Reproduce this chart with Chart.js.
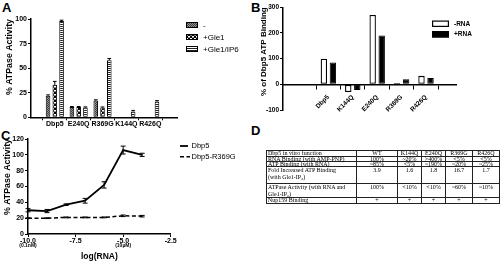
<!DOCTYPE html>
<html><head><meta charset="utf-8">
<script src="https://cdn.jsdelivr.net/npm/chart.js@4.4.0/dist/chart.umd.min.js"></script>
<style>
html,body{margin:0;padding:0;background:#fff;width:504px;height:263px;overflow:hidden;font-family:"Liberation Sans",Arial,sans-serif;}
#page{position:absolute;left:0;top:0;width:504px;height:263px;}
.pane{position:absolute;}
.lbl{position:absolute;font:bold 13px "Liberation Sans",Arial,sans-serif;line-height:13px;}
#tbl{position:absolute;left:266px;top:150px;width:233px;table-layout:fixed;border-collapse:collapse;font:6px "Liberation Serif","DejaVu Serif",serif;color:#000;will-change:transform;}
#tbl td{border:1px solid #222;padding:0 1px;vertical-align:top;white-space:pre-line;overflow:visible;}
#tbl td div{overflow:visible;}
#tbl td.c{text-align:center;}
</style></head><body>
<div id="page">
<div class="lbl" style="left:2px;top:1px">A</div>
<div class="lbl" style="left:251px;top:1px">B</div>
<div class="lbl" style="left:1px;top:129px">C</div>
<div class="lbl" style="left:251px;top:124px">D</div>
<canvas id="ca" class="pane" width="250" height="131" style="left:0;top:0"></canvas>
<canvas id="cb" class="pane" width="254" height="125" style="left:250px;top:0"></canvas>
<canvas id="cc" class="pane" width="250" height="138" style="left:0;top:125px"></canvas>
<table id="tbl"><colgroup><col style="width:90px"><col style="width:41px"><col style="width:24px"><col style="width:24px"><col style="width:27px"><col style="width:27px"></colgroup><tbody></tbody></table>
</div>
<script>
// ---------- DATA ----------
// Panel A
const categoriesA = ['Dbp5', 'E240Q', 'R369G', 'K144Q', 'R426Q'];
const labelsA = ['-', '+Gle1', '+Gle1/IP6'];
const seriesA_none = [22, 10.5, 17, 0, 0];
const seriesA_gle1 = [33, 10.5, 10, 0, 0];
const seriesA_ip6 = [98, 10, 58, 6, 16];
const errA_none = [0.8, 0.5, 0.8, 0, 0];
const errA_gle1 = [3.5, 0.5, 0.5, 0, 0];
const errA_ip6 = [0.8, 0.6, 1.8, 1, 1];
const ticksAy = [0, 25, 50, 75, 100];
// Panel B
const categoriesB = ['Dbp5', 'K144Q', 'E240Q', 'R369G', 'R426Q'];
const labelsB = ['-RNA', '+RNA'];
const seriesB_minus = [100, -30, 270, 5, 33];
const seriesB_plus = [85, -22, 190, 20, 25];
const ticksBy = [-100, 0, 100, 200, 300];
// Panel C
const logRNA = [-10, -9, -8, -7, -6, -5, -4];
const labelsC = ['Dbp5', 'Dbp5-R369G'];
const seriesC_wt = [30, 29, 37, 42, 62, 106, 100];
const errC_wt = [2, 2, 1, 3, 4, 5, 2];
const seriesC_r369g = [20, 20, 21, 21, 21, 23, 22.5];
const errC_r369g = [0.5, 0.5, 0.5, 0.5, 0.5, 1, 1];
const ticksCx = [-10, -7.5, -5, -2.5];
const subTicksCx = [[-10, '(0.1nM)'], [-5, '(10µM)']];
const ticksCy = [0, 20, 40, 60, 80, 100, 120];
// Panel D
const tableHeader = ['Dbp5 in vitro function', 'WT', 'K144Q', 'E240Q', 'R369G', 'R426Q'];
const tableRows = [
  ['RNA Binding (with AMP-PNP)', '100%', '~20%', '>400%', '<5%', '<5%'],
  ['ATP Binding (with RNA)', '~85%', '<5%', '~190%', '~20%', '~25%'],
  ['Fold Increased ATP Binding\n(with Gle1-IP₆)', '3.9', '1.6', '1.8', '16.7', '1.7'],
  ['ATPase Activity (with RNA and\nGle1-IP₆)', '100%', '<10%', '<10%', '~60%', '~10%'],
  ['Nup159 Binding', '+', '+', '+', '+', '+']
];

// ---------- STYLE ----------
const FONT = '"Liberation Sans", Arial, sans-serif';
Chart.defaults.font.family = FONT;
Chart.defaults.color = '#000';
Chart.defaults.animation = false;

function makePattern(w, h, draw) {
  const c = document.createElement('canvas'); c.width = w; c.height = h;
  const g = c.getContext('2d'); draw(g); return g.createPattern(c, 'repeat');
}
const patNone = makePattern(2, 2, g => { g.fillStyle = '#949494'; g.fillRect(0,0,2,2); g.fillStyle = '#3c3c3c'; g.fillRect(0,0,1,1); g.fillRect(1,1,1,1); });
const patGle1 = makePattern(4, 4, g => { g.fillStyle = '#000'; g.fillRect(0,0,4,4); g.fillStyle = '#fff'; g.fillRect(0,0,2,1); g.fillRect(2,2,2,1); g.fillStyle = '#888'; g.fillRect(0,1,2,1); g.fillRect(2,3,2,1); });
const patIp6 = makePattern(2, 2, g => { g.fillStyle = '#fff'; g.fillRect(0,0,2,2); g.fillStyle = '#222'; g.fillRect(0,0,2,1); });

const axisCommon = (extra) => Object.assign({
  grid: { drawOnChartArea: false, drawTicks: true, tickLength: 3, color: '#000', lineWidth: 1 },
  border: { display: true, color: '#000', width: 1.5 }
}, extra);
const tickFont = (size) => ({ size, weight: 'bold' });
const pointsOf = (arr) => arr.map((v, i) => ({ x: i, y: v }));

// ---------- PANEL A ----------
const errBarsA = {
  id: 'errBarsA',
  afterDatasetsDraw(chart) {
    const ctx = chart.ctx, ys = chart.scales.y, errs = [errA_none, errA_gle1, errA_ip6];
    chart.data.datasets.forEach((ds, di) => {
      chart.getDatasetMeta(di).data.forEach((bar, i) => {
        const e = errs[di][i]; if (!e) return;
        const v = ds.data[i].y, x = bar.x, y0 = ys.getPixelForValue(v), y1 = ys.getPixelForValue(v + e), hw = bar.width * 0.4;
        ctx.save(); ctx.strokeStyle = '#000'; ctx.lineWidth = 1;
        ctx.beginPath(); ctx.moveTo(x, y0); ctx.lineTo(x, y1); ctx.moveTo(x - hw, y1); ctx.lineTo(x + hw, y1); ctx.stroke(); ctx.restore();
      });
    });
  },
  afterDraw(chart) {
    const ctx = chart.ctx;
    chart.data.datasets.forEach((ds, i) => {
      const top = 22 + i * 12;
      ctx.save();
      ctx.fillStyle = ds.backgroundColor; ctx.fillRect(186, top, 12, 6);
      ctx.strokeStyle = '#000'; ctx.lineWidth = 1; ctx.strokeRect(186.5, top + 0.5, 11, 5);
      ctx.fillStyle = '#000'; ctx.font = '8px ' + FONT; ctx.textBaseline = 'middle'; ctx.textAlign = 'left';
      ctx.fillText(ds.label, 203, top + 3.5);
      ctx.restore();
    });
  }
};
new Chart(document.getElementById('ca'), {
  type: 'bar',
  data: { datasets: [
    { label: labelsA[0], data: pointsOf(seriesA_none), backgroundColor: patNone, borderColor: '#000', borderWidth: 1, borderSkipped: false },
    { label: labelsA[1], data: pointsOf(seriesA_gle1), backgroundColor: patGle1, borderColor: '#000', borderWidth: 1, borderSkipped: false },
    { label: labelsA[2], data: pointsOf(seriesA_ip6), backgroundColor: patIp6, borderColor: '#000', borderWidth: 1, borderSkipped: false }
  ]},
  options: {
    responsive: false, devicePixelRatio: 1, animation: false,
    layout: { padding: { left: 0, right: 73, top: 19, bottom: 0 } },
    plugins: { legend: { display: false }, tooltip: { enabled: false } },
    datasets: { bar: { categoryPercentage: 0.85, barPercentage: 0.68 } },
    scales: {
      x: axisCommon({ type: 'linear', min: -0.386, max: 4.51,
        afterBuildTicks: s => { s.ticks = categoriesA.map((c, i) => ({ value: i })); },
        afterFit: s => { s.height = 13.7; },
        ticks: { z: 1, autoSkip: false, maxRotation: 0, padding: 0, font: tickFont(7), callback: v => categoriesA[v] } }),
      y: axisCommon({ min: 0, max: 100,
        afterBuildTicks: s => { s.ticks = ticksAy.map(v => ({ value: v })); },
        afterFit: s => { s.width = 31; },
        ticks: { z: 1, autoSkip: false, padding: 1, font: tickFont(7) },
        title: { display: true, text: '% ATPase Activity', align: 'end', font: { size: 8.8, weight: 'bold' }, padding: { top: 4, bottom: 0 } } })
    }
  },
  plugins: [errBarsA]
});

// ---------- PANEL B ----------
const legendB = {
  id: 'legendB',
  afterDraw(chart) {
    const ctx = chart.ctx;
    chart.data.datasets.forEach((ds, i) => {
      const top = 20.5 + i * 10.5;
      ctx.save();
      ctx.fillStyle = ds.backgroundColor; ctx.fillRect(182, top, 17, 6.5);
      ctx.strokeStyle = '#000'; ctx.lineWidth = 1.2; ctx.strokeRect(182.6, top + 0.6, 15.8, 5.3);
      ctx.fillStyle = '#000'; ctx.font = 'bold 6.5px ' + FONT; ctx.textBaseline = 'middle'; ctx.textAlign = 'left';
      ctx.fillText(ds.label, 204, top + 3.5);
      ctx.restore();
    });
  }
};
new Chart(document.getElementById('cb'), {
  type: 'bar',
  data: { datasets: [
    { label: labelsB[0], data: pointsOf(seriesB_minus), backgroundColor: '#fff', borderColor: '#000', borderWidth: 1.3, borderSkipped: false },
    { label: labelsB[1], data: pointsOf(seriesB_plus), backgroundColor: '#000', borderColor: '#000', borderWidth: 1, borderSkipped: false }
  ]},
  options: {
    responsive: false, devicePixelRatio: 1, animation: false,
    layout: { padding: { left: 0, right: 48, top: 7.3, bottom: 15 } },
    plugins: { legend: { display: false }, tooltip: { enabled: false } },
    datasets: { bar: { categoryPercentage: 0.74, barPercentage: 0.71 } },
    scales: {
      x: axisCommon({ type: 'linear', min: -1.15, max: 4.52, position: { y: 0 },
        afterBuildTicks: s => { s.ticks = categoriesB.map((c, i) => ({ value: i })); },
        grid: { drawOnChartArea: false, tickLength: 4, color: '#000', lineWidth: 1 },
        ticks: { z: 1, autoSkip: false, minRotation: 45, maxRotation: 45, padding: 5, font: tickFont(6.5), callback: v => categoriesB[v] } }),
      y: axisCommon({ min: -100, max: 300,
        afterBuildTicks: s => { s.ticks = ticksBy.map(v => ({ value: v })); },
        afterFit: s => { s.width = 33; },
        ticks: { z: 1, autoSkip: false, padding: 1, font: tickFont(6.5) },
        title: { display: true, text: '% of Dbp5 ATP Binding', align: 'end', font: { size: 8, weight: 'bold' }, padding: { top: 9, bottom: 0 } } })
    }
  },
  plugins: [legendB]
});

// ---------- PANEL C ----------
const errC = [errC_wt, errC_r369g];
const extrasC = {
  id: 'extrasC',
  afterDatasetsDraw(chart) {
    const ctx = chart.ctx, xs = chart.scales.x, ys = chart.scales.y;
    chart.data.datasets.forEach((ds, di) => {
      ds.data.forEach((p, i) => {
        const e = errC[di][i]; if (!e) return;
        const x = xs.getPixelForValue(p.x), y0 = ys.getPixelForValue(p.y - e), y1 = ys.getPixelForValue(p.y + e);
        ctx.save(); ctx.strokeStyle = '#000'; ctx.lineWidth = 1;
        ctx.beginPath(); ctx.moveTo(x, y0); ctx.lineTo(x, y1);
        ctx.moveTo(x - 2.5, y0); ctx.lineTo(x + 2.5, y0); ctx.moveTo(x - 2.5, y1); ctx.lineTo(x + 2.5, y1);
        ctx.stroke(); ctx.restore();
      });
    });
  },
  afterDraw(chart) {
    const ctx = chart.ctx, xs = chart.scales.x;
    ctx.save();
    ctx.fillStyle = '#000'; ctx.font = 'bold 5px ' + FONT; ctx.textAlign = 'center'; ctx.textBaseline = 'middle';
    subTicksCx.forEach(([v, t]) => ctx.fillText(t, xs.getPixelForValue(v), xs.top + 12));
    chart.data.datasets.forEach((ds, i) => {
      const y = 21 + i * 10.7;
      ctx.strokeStyle = '#000'; ctx.lineWidth = ds.borderWidth; ctx.setLineDash(ds.borderDash || []);
      ctx.beginPath(); ctx.moveTo(180, y); ctx.lineTo(i ? 190 : 188, y); ctx.stroke();
      ctx.setLineDash([]);
      ctx.font = '7.5px ' + FONT; ctx.textAlign = 'left'; ctx.fillText(ds.label, 191.5, y);
    });
    ctx.restore();
  }
};
new Chart(document.getElementById('cc'), {
  type: 'line',
  data: { datasets: [
    { label: labelsC[0], data: logRNA.map((x, i) => ({ x, y: seriesC_wt[i] })), borderColor: '#000', borderWidth: 1.8, pointRadius: 0, fill: false, tension: 0 },
    { label: labelsC[1], data: logRNA.map((x, i) => ({ x, y: seriesC_r369g[i] })), borderColor: '#000', borderWidth: 1.5, borderDash: [4, 2.5], pointRadius: 0, fill: false, tension: 0 }
  ]},
  options: {
    responsive: false, devicePixelRatio: 1, animation: false,
    layout: { padding: { left: 0, right: 79.3, top: 14, bottom: 0 } },
    plugins: { legend: { display: false }, tooltip: { enabled: false } },
    scales: {
      x: axisCommon({ type: 'linear', min: -10, max: -2.5,
        afterBuildTicks: s => { s.ticks = ticksCx.map(v => ({ value: v })); },
        afterFit: s => { s.height = 29; },
        ticks: { z: 1, autoSkip: false, maxRotation: 0, padding: 0, font: tickFont(7), callback: v => v.toFixed(1) },
        title: { display: true, text: 'log(RNA)', font: { size: 8.5, weight: 'bold' }, padding: { top: 0, bottom: 1.2 } } }),
      y: axisCommon({ min: 0, max: 120,
        afterBuildTicks: s => { s.ticks = ticksCy.map(v => ({ value: v })); },
        afterFit: s => { s.width = 28; },
        ticks: { z: 1, autoSkip: false, padding: 1, font: tickFont(7) },
        title: { display: true, text: '% ATPase Activity', align: 'end', font: { size: 8.8, weight: 'bold' }, padding: { top: 2, bottom: 0 } } })
    }
  },
  plugins: [extrasC]
});

// ---------- PANEL D (table) ----------
const rowHeights = [5, 4, 4, 16, 13, 5];
const lineHeights = [5, 5, 5, 7, 6.6, 5];
const tbody = document.querySelector('#tbl tbody');
[tableHeader].concat(tableRows).forEach((row, r) => {
  const tr = document.createElement('tr');
  row.forEach((cell, c) => {
    const td = document.createElement('td');
    if (c > 0) td.className = 'c';
    const d = document.createElement('div');
    d.style.height = rowHeights[r] + 'px';
    d.style.lineHeight = lineHeights[r] + 'px';
    d.textContent = cell;
    td.appendChild(d); tr.appendChild(td);
  });
  tbody.appendChild(tr);
});
</script>
</body></html>
